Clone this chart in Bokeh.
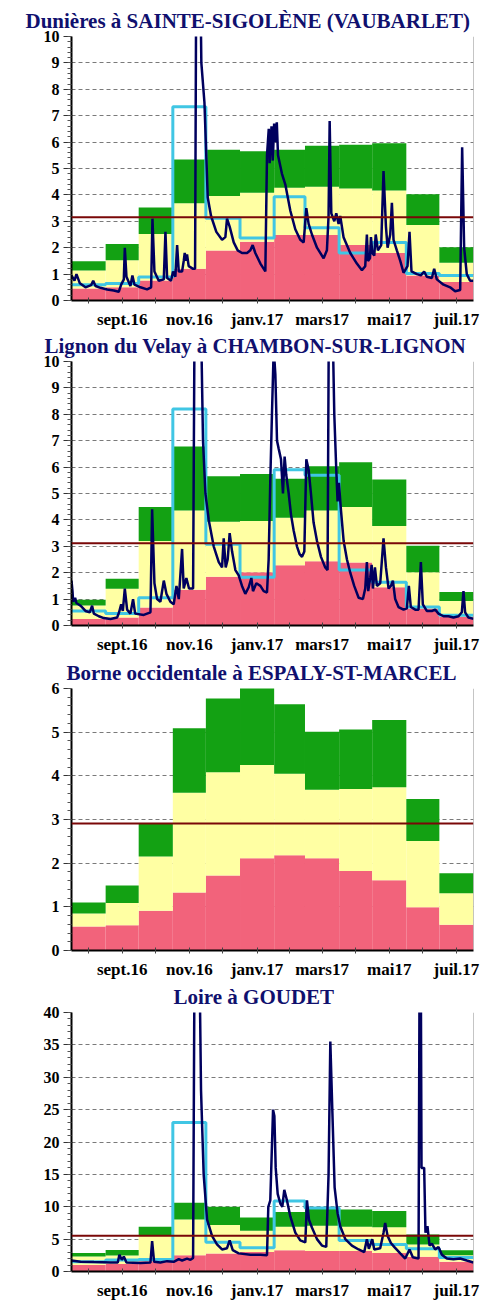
from bokeh.plotting import figure
from bokeh.layouts import column
from bokeh.models import Range1d, Span, FixedTicker, SingleIntervalTicker, Title
from bokeh.embed import file_html
from bokeh.resources import INLINE
import pandas as pd

# ---------------- calendar (x axis = days since 1 Aug 2016) ----------------
month_starts = pd.date_range("2016-08-01", "2017-08-01", freq="MS")
bounds = [(d - month_starts[0]).days for d in month_starts]
m_left = bounds[:-1]
m_right = bounds[1:]
m_center = [(a + b) / 2 for a, b in zip(m_left, m_right)]
tick_labels = ["", "sept.16", "", "nov.16", "", "janv.17", "", "mars17", "", "mai17", "", "juil.17"]

# ---------------- panel 1 : Dunières ----------------
title1 = "Dunières à SAINTE-SIGOLÈNE (VAUBARLET)"
low1 = [0.45, 0.5, 0.76, 1.2, 1.89, 2.23, 2.48, 2.48, 2.1, 1.8, 0.95, 0.7]
mid1 = [1.14, 1.52, 2.52, 3.68, 3.96, 4.08, 4.27, 4.31, 4.24, 4.17, 2.86, 1.43]
high1 = [1.49, 2.14, 3.52, 5.34, 5.71, 5.65, 5.71, 5.86, 5.9, 5.96, 4.02, 2.02]
mean1 = [0.6, 0.64, 0.89, 7.34, 3.12, 2.37, 3.93, 2.76, 1.8, 2.2, 1.02, 0.95]
ref1 = 3.15
day1 = [0, 2.7, 4.5, 7.6, 12.7, 17.8, 19.7, 21.8, 26.3, 32.4, 38.4, 42.9, 45.1, 47.5, 48.4, 49.9,
        53.5, 55.3, 57.2, 62.6, 68.6, 72.3, 73.5, 75.3, 79.2, 83.8, 85.3, 86.8, 90.4, 92.2, 94.3,
        95.9, 97.4, 100.4, 101.9, 102.8, 104, 104.9, 106.4, 110.4, 112.2, 113.4, 116.4, 117.9,
        120.7, 123.7, 126.7, 131.5, 136.7, 139.7, 141.2, 143.6, 147.3, 150.9, 154.8, 159.4, 162.4,
        164.5, 166.9, 171.5, 176, 177.5, 179.1, 179.9, 181.6, 182.8, 184, 185.2, 186.4, 187.5,
        191.1, 194.1, 198.7, 203.2, 207.7, 210.8, 213.2, 215.3, 218.3, 222.9, 228.9, 231.9, 233.4,
        234.4, 235.9, 238.6, 240.4, 242.5, 244, 247, 253.1, 259.1, 263.7, 266.7, 268.2, 269.2, 271,
        271.9, 273.1, 274.9, 276.2, 278.2, 281.2, 283.3, 285.5, 287, 289.4, 290.9, 292.4, 295.4,
        298.5, 301.5, 305.1, 306.9, 308.7, 313.6, 317.2, 320.2, 322.6, 327.2, 329.3, 331.7, 337.8,
        343.8, 348.3, 352.9, 354.7, 356.5, 358.9, 361.9, 365]
flow1 = [0.95, 0.75, 1.0, 0.65, 0.5, 0.58, 0.75, 0.55, 0.48, 0.42, 0.38, 0.33, 0.6, 0.8, 2.0, 0.9,
         0.55, 0.95, 0.6, 0.5, 0.42, 0.5, 3.1, 1.1, 0.75, 0.8, 2.6, 0.85, 0.75, 1.1, 0.9,
         2.1, 1.1, 1.1, 1.5, 1.8, 1.5, 1.75, 1.3, 1.2, 1.2, 14, 14, 9.0,
         7.5, 3.9, 3.2, 2.6, 2.3, 2.4, 3.1, 2.8, 2.2, 1.9, 1.8, 1.8, 1.9,
         2.1, 1.8, 1.4, 1.1, 5.5, 6.5, 5.2, 6.6, 5.3, 6.7, 6.0, 6.75, 5.5,
         4.8, 4.4, 3.4, 2.7, 2.3, 2.2, 3.5, 2.9, 2.5, 2.0, 1.6, 1.9, 3.2,
         6.8, 3.3, 3.0, 3.3, 2.9, 3.2, 2.4, 1.8, 1.4, 1.15, 1.3, 2.5, 1.5, 1.6,
         2.4, 1.8, 1.7, 2.5, 1.9, 2.1, 4.9, 2.8, 2.0, 2.5, 3.7, 2.3, 1.9,
         1.5, 1.05, 1.3, 2.6, 1.1, 1.0, 0.95, 1.1, 0.9, 0.85, 1.2, 0.8, 0.6,
         0.5, 0.35, 0.4, 5.8, 2.0, 1.0, 0.75, 0.75]

# ---------------- panel 2 : Lignon du Velay ----------------
title2 = "Lignon du Velay à CHAMBON-SUR-LIGNON"
low2 = [0.25, 0.3, 0.68, 1.35, 1.85, 2.02, 2.28, 2.43, 2.39, 1.45, 0.64, 0.33]
mid2 = [0.76, 1.39, 3.2, 4.36, 3.93, 3.96, 4.08, 4.36, 4.49, 3.77, 2.02, 0.93]
high2 = [0.98, 1.77, 4.49, 6.78, 5.65, 5.74, 5.56, 6.03, 6.18, 5.53, 3.02, 1.27]
mean2 = [0.55, 0.45, 1.05, 8.2, 3.08, 1.83, 5.9, 5.69, 2.1, 1.64, 0.7, 0.39]
ref2 = 3.12
day2 = [0, 0.9, 1.5, 3.3, 4.5, 8.2, 12.7, 16.6, 18.7, 20.3, 24.8, 29.3, 35.4, 41.4, 43.2, 45.1,
        46.6, 48.4, 50.5, 53.5, 55.9, 57.8, 65.6, 71.7, 73.2, 75.3, 77.7, 80.7, 83.8, 86.2, 89.8,
        92.8, 95.3, 97.4, 100.4, 101.9, 104.3, 106.7, 110.4, 111.9, 117, 119.4, 121.6, 124.6,
        129.1, 133.7, 136.7, 138.2, 140.0, 141.8, 143.6, 145.8, 148.8, 151.8, 154.8, 157.8, 160.9,
        163.3, 164.8, 167.8, 171.5, 174.5, 177.5, 179.0, 180.5, 182.0, 183.6, 185.1, 186.6, 188.1,
        190.2, 192.0, 193.5, 195.0, 197.2, 199.3, 201.7, 204.7, 207.1, 209.3, 211.4, 213.2, 215.3,
        217.4, 219.8, 222.9, 226.5, 230.4, 232.5, 233.7, 236.8, 238.6, 240.4, 241.6, 242.8, 244.6,
        247.1, 250.1, 253.1, 256.7, 260.7, 264.6, 266.7, 268.2, 269.4, 271.2, 272.5, 273.7, 275.5,
        277.3, 280.3, 283.3, 285.5, 287.9, 290.0, 291.8, 293.9, 296.9, 301.5, 304.5, 306.3, 308.1,
        312.1, 315.1, 317.2, 319.0, 322.6, 327.2, 330.2, 333.2, 337.8, 342.3, 346.8, 351.4, 354.4,
        355.9, 357.4, 360.4, 365.0]
flow2 = [1.7, 1.3, 0.9, 1.05, 0.85, 0.75, 0.55, 0.5, 0.75, 0.45, 0.35, 0.28, 0.25, 0.3, 0.5, 0.8,
         0.55, 1.4, 0.6, 0.45, 1.0, 0.45, 0.4, 0.5, 4.4, 1.6, 1.0, 0.9, 1.7, 1.2, 0.9,
         0.8, 1.5, 1.0, 2.9, 1.4, 1.8, 1.4, 1.4, 13, 13, 7.0, 5.0, 4.0,
         3.0, 2.4, 2.2, 3.3, 2.2, 2.5, 3.5, 2.8, 2.1, 1.9, 1.5, 1.2, 1.45,
         1.8, 1.3, 1.6, 1.5, 1.3, 1.25, 2.5, 5.5, 8.0, 10.5, 9.5, 7.0, 6.7,
         6.3, 5.0, 6.4, 5.7, 5.0, 4.2, 3.6, 3.0, 2.7, 2.6, 2.8, 6.3, 5.9,
         5.0, 3.9, 3.2, 2.6, 2.2, 2.1, 12, 12, 8.0, 5.9, 4.7, 5.4, 4.4,
         3.2, 2.5, 2.0, 1.5, 1.05, 1.0, 1.4, 2.4, 1.3, 1.8, 2.3, 1.4, 2.2,
         1.5, 1.6, 3.3, 2.2, 1.4, 1.5, 1.7, 1.0, 0.7, 0.6, 0.65, 1.5, 0.7,
         0.6, 0.6, 2.4, 0.8, 0.55, 0.55, 0.6, 0.45, 0.35, 0.35, 0.3, 0.35, 0.5,
         1.3, 0.5, 0.3, 0.25]

# ---------------- panel 3 : Borne occidentale ----------------
title3 = "Borne occidentale à ESPALY-ST-MARCEL"
low3 = [0.55, 0.58, 0.91, 1.33, 1.72, 2.11, 2.18, 2.11, 1.82, 1.61, 0.99, 0.59]
mid3 = [0.85, 1.09, 2.15, 3.61, 4.08, 4.25, 4.05, 3.68, 3.70, 3.74, 2.51, 1.31]
high3 = [1.1, 1.49, 2.92, 5.09, 5.77, 6.05, 5.64, 5.01, 5.06, 5.28, 3.47, 1.77]
ref3 = 2.91

# ---------------- panel 4 : Loire ----------------
title4 = "Loire à GOUDET"
low4 = [1.0, 1.16, 1.6, 2.5, 2.77, 3.0, 3.27, 3.17, 3.17, 2.87, 2.26, 1.5]
mid4 = [2.3, 2.47, 5.55, 8.05, 7.2, 6.3, 6.9, 7.05, 6.9, 6.84, 4.18, 2.5]
high4 = [2.87, 3.32, 6.9, 10.6, 10.0, 8.35, 9.2, 9.66, 9.56, 9.35, 5.7, 3.3]
mean4 = [1.5, 1.76, 1.86, 23.0, 4.5, 3.67, 10.9, 9.8, 4.78, 4.18, 3.5, 2.16]
ref4 = 5.53
day4 = [0, 8.2, 20.3, 35.4, 42.0, 43.5, 45.7, 47.5, 49.9, 62.6, 71.7, 73.2, 75.0, 80.7, 86.8, 92.8,
        97.4, 100.4, 104.9, 108.0, 110.4, 111.6, 116.4, 117.6, 120.0, 123.1, 127.6, 132.1, 136.7,
        141.2, 143.6, 146.4, 151.8, 162.4, 171.5, 177.5, 178.7, 180.5, 183.0, 184.2, 185.4, 187.2,
        189.6, 191.4, 193.2, 195.6, 198.7, 203.2, 207.7, 212.3, 213.8, 215.6, 218.3, 222.9, 227.4,
        231.3, 233.4, 235.0, 236.8, 238.9, 241.6, 244.0, 248.6, 254.6, 260.7, 265.8, 268.2, 270.0,
        273.1, 274.9, 280.3, 283.3, 284.8, 287.0, 290.0, 293.0, 298.5, 303.0, 306.9, 309.9, 315.1,
        316.0, 317.2, 317.8, 320.2, 321.4, 323.2, 325.1, 327.2, 330.2, 333.2, 336.3, 340.8, 346.8,
        352.9, 358.9, 365.0]
flow4 = [1.7, 1.5, 1.45, 1.4, 1.4, 2.6, 1.8, 2.3, 1.4, 1.3, 1.4, 4.7, 1.5, 1.4, 1.6, 1.5,
         1.9, 1.7, 2.0, 1.8, 2.1, 45, 45, 28, 15, 8, 5.5, 4.2, 3.4,
         3.6, 4.8, 3.3, 2.8, 2.6, 2.6, 2.5, 10, 11, 25, 24, 16, 12,
         10.5, 10, 12.6, 11, 8.5, 6.0, 4.8, 4.5, 11, 8.0, 6.8, 5.0, 4.0,
         3.8, 15, 35.5, 25, 13, 9.0, 7.0, 5.0, 4.0, 3.4, 3.0, 5.0, 3.5,
         5.0, 3.4, 3.6, 6.0, 7.5, 5.5, 4.4, 3.8, 2.8, 2.0, 3.4, 2.2, 2.0,
         45, 45, 16, 16, 6.0, 7.0, 4.0, 4.3, 3.4, 3.8, 2.6, 2.0, 1.9,
         2.0, 1.7, 1.4]

# ---------------- styles ----------------
RED = "#F2637B"
YEL = "#FFFFA3"
GRN = "#13A113"
CYAN = "#40C6E4"
NAVY = "#00005E"
BROWN = "#7A0808"
SERIF = "Liberation Serif"


def panel(title, toff, ymax, yint, low, mid, high, ref, mean=None, days=None, flow=None,
          height=325, top=30, bottom=29, left=71):
    p = figure(width=483, height=height, x_range=Range1d(0, 365), y_range=Range1d(0, ymax),
               output_backend="svg", toolbar_location=None,
               min_border_left=left, min_border_right=10, min_border_top=top,
               min_border_bottom=bottom)
    p.title = Title(text=title, align="left", offset=toff, standoff=4, vertical_align="top",
                    text_font=SERIF, text_font_size="21px", text_font_style="bold",
                    text_color="#10106E")
    p.outline_line_color = None
    p.background_fill_color = "white"
    p.border_fill_color = "white"

    p.quad(left=m_left, right=m_right, bottom=0, top=low, fill_color=RED, line_color=None)
    p.quad(left=m_left, right=m_right, bottom=low, top=mid, fill_color=YEL, line_color=None)
    p.quad(left=m_left, right=m_right, bottom=mid, top=high, fill_color=GRN, line_color=None)
    if mean is not None:
        p.step(x=bounds, y=list(mean) + [mean[-1]], mode="after", line_color=CYAN, line_width=3)
    if days is not None:
        p.line(days, flow, line_color=NAVY, line_width=2.5)
    p.add_layout(Span(location=ref, dimension="width", line_color=BROWN, line_width=2))
    p.add_layout(Span(location=365, dimension="height", line_color="#8C8C8C", line_width=1))

    p.xgrid.visible = False
    p.ygrid.grid_line_color = "#7A7A7A"
    p.ygrid.grid_line_dash = "4 3"
    p.ygrid.grid_line_width = 1

    p.yaxis.ticker = SingleIntervalTicker(interval=yint, num_minor_ticks=5)
    p.yaxis.axis_line_width = 2
    p.yaxis.axis_line_color = "black"
    p.yaxis.major_tick_out = 8
    p.yaxis.major_tick_in = 0
    p.yaxis.minor_tick_out = 4
    p.yaxis.minor_tick_in = 0
    p.yaxis.major_tick_line_color = "#333333"
    p.yaxis.minor_tick_line_color = "#555555"
    p.yaxis.major_label_standoff = 4
    p.yaxis.major_label_text_font = SERIF
    p.yaxis.major_label_text_font_style = "bold"
    p.yaxis.major_label_text_font_size = "16px"
    p.yaxis.major_label_text_color = "black"

    p.xaxis.ticker = FixedTicker(ticks=m_center, minor_ticks=[])
    p.xaxis.major_label_overrides = {c: lab for c, lab in zip(m_center, tick_labels)}
    p.xaxis.axis_line_width = 2
    p.xaxis.axis_line_color = "black"
    p.xaxis.major_tick_in = 3
    p.xaxis.major_tick_out = 3
    p.xaxis.major_tick_line_color = "#444444"
    p.xaxis.major_label_standoff = 6
    p.xaxis.major_label_text_font = SERIF
    p.xaxis.major_label_text_font_style = "bold"
    p.xaxis.major_label_text_font_size = "17px"
    p.xaxis.major_label_text_color = "black"
    return p


p1 = panel(title1, -46, 10, 1, low1, mid1, high1, ref1, mean1, day1, flow1, height=331, top=36)
p2 = panel(title2, -27, 10, 1, low2, mid2, high2, ref2, mean2, day2, flow2, height=325, top=30)
p3 = panel(title3, -5, 6, 1, low3, mid3, high3, ref3, height=325, top=32, left=61)
p4 = panel(title4, 102, 40, 5, low4, mid4, high4, ref4, mean4, day4, flow4, height=321, top=31)

layout = column(p1, p2, p3, p4, spacing=0)
open("out.html", "w").write(file_html(layout, INLINE))
